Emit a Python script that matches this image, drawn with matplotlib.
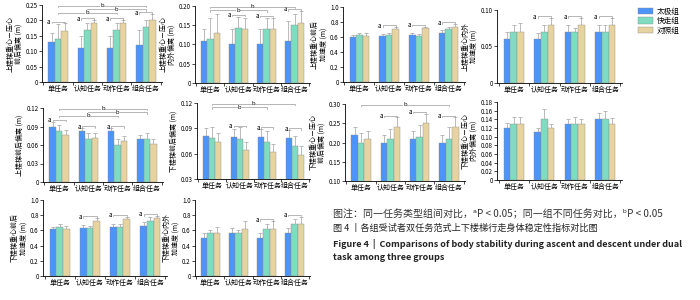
import matplotlib
matplotlib.use("Agg")
import matplotlib.pyplot as plt
import numpy as np

plt.rcParams["font.family"] = ["Noto Sans CJK SC", "DejaVu Sans"]
plt.rcParams["axes.unicode_minus"] = False

# ---- data ----
tasks = ["单任务", "认知任务", "动作任务", "组合任务"]
groups = ["太极组", "快走组", "对照组"]
colors = ["#4D94FA", "#7FDCC0", "#E6D3A0"]

# each panel: means per group (rows) x task (cols), upper error
p1_val = [[0.13, 0.11, 0.11, 0.12], [0.138, 0.17, 0.17, 0.18], [0.165, 0.19, 0.19, 0.20]]
p1_err = [[0.03, 0.04, 0.04, 0.05], [0.05, 0.02, 0.02, 0.02], [0.025, 0.01, 0.01, 0.02]]
p2_val = [[0.11, 0.10, 0.10, 0.11], [0.115, 0.142, 0.14, 0.15], [0.13, 0.14, 0.14, 0.157]]
p2_err = [[0.03, 0.04, 0.04, 0.05], [0.055, 0.03, 0.03, 0.03], [0.05, 0.03, 0.03, 0.03]]
p3_val = [[0.60, 0.61, 0.63, 0.65], [0.63, 0.63, 0.61, 0.71], [0.62, 0.71, 0.72, 0.74]]
p3_err = [[0.03, 0.03, 0.03, 0.04], [0.03, 0.03, 0.03, 0.03], [0.03, 0.02, 0.02, 0.03]]
p4_val = [[0.060, 0.060, 0.070, 0.070], [0.070, 0.070, 0.070, 0.070], [0.070, 0.079, 0.079, 0.079]]
p4_err = [[0.010, 0.008, 0.010, 0.010], [0.010, 0.010, 0.006, 0.010], [0.012, 0.010, 0.010, 0.010]]
p5_val = [[0.090, 0.082, 0.082, 0.070], [0.082, 0.070, 0.060, 0.070], [0.077, 0.071, 0.066, 0.061]]
p5_err = [[0.008, 0.005, 0.005, 0.006], [0.010, 0.010, 0.010, 0.010], [0.008, 0.008, 0.008, 0.008]]
p6_val = [[0.081, 0.080, 0.080, 0.079], [0.079, 0.077, 0.074, 0.069], [0.074, 0.064, 0.062, 0.059]]
p6_err = [[0.009, 0.009, 0.009, 0.009], [0.013, 0.014, 0.013, 0.012], [0.010, 0.010, 0.010, 0.010]]
p7_val = [[0.22, 0.20, 0.21, 0.20], [0.20, 0.21, 0.215, 0.21], [0.21, 0.24, 0.25, 0.24]]
p7_err = [[0.02, 0.02, 0.02, 0.02], [0.025, 0.025, 0.03, 0.03], [0.02, 0.025, 0.025, 0.025]]
p8_val = [[0.12, 0.11, 0.13, 0.14], [0.13, 0.14, 0.13, 0.14], [0.13, 0.12, 0.13, 0.13]]
p8_err = [[0.012, 0.010, 0.010, 0.015], [0.015, 0.025, 0.015, 0.020], [0.015, 0.010, 0.010, 0.012]]
p9_val = [[0.62, 0.63, 0.65, 0.66], [0.64, 0.63, 0.65, 0.73], [0.62, 0.73, 0.75, 0.76]]
p9_err = [[0.03, 0.04, 0.04, 0.05], [0.05, 0.03, 0.03, 0.04], [0.04, 0.03, 0.03, 0.03]]
p10_val = [[0.50, 0.56, 0.50, 0.56], [0.56, 0.56, 0.62, 0.68], [0.57, 0.62, 0.62, 0.69]]
p10_err = [[0.06, 0.07, 0.06, 0.07], [0.05, 0.05, 0.06, 0.07], [0.07, 0.10, 0.10, 0.09]]

ylabels = [
    "上楼梯重心－压心\n前后偏离 (m)", "上楼梯重心－压心\n内外偏离 (m)",
    "上楼梯重心前后\n加速度 (m)", "上楼梯重心内外\n加速度 (m)",
    "上楼梯前后偏离 (m)", "下楼梯前后偏离 (m)",
    "下楼梯重心－压心\n前后偏离 (m)", "下楼梯重心－压心\n内外偏离 (m)",
    "下楼梯重心前后\n加速度 (m)", "下楼梯重心内外\n加速度 (m)",
]
ylims = [(0, 0.25), (0, 0.20), (0, 1.0), (0, 0.10), (0, 0.12),
         (0.03, 0.12), (0.10, 0.30), (0, 0.18), (0, 1.0), (0, 1.0)]
ysteps = [0.05, 0.05, 0.2, 0.05, 0.03, 0.03, 0.05, 0.02, 0.2, 0.2]
yfmt = ["%.2f", "%.2f", "%.1f", "%.2f", "%.2f", "%.2f", "%.2f", "%.2f", "%.1f", "%.1f"]
# significance annotations
sig_a = [[0, 1, 2, 3], [1, 2, 3], [1, 2, 3], [1, 2, 3], [0, 1, 2],
         [1, 2, 3], [1, 2, 3], [], [1, 2, 3], [2, 3]]
sig_b = [[(0, 3), (1, 3), (0, 2)], [(0, 3), (0, 2)], [], [], [(0, 3), (1, 3), (0, 2)],
         [(0, 3), (0, 2)], [(0, 3)], [], [], []]

vals = [p1_val, p2_val, p3_val, p4_val, p5_val, p6_val, p7_val, p8_val, p9_val, p10_val]
errs = [p1_err, p2_err, p3_err, p4_err, p5_err, p6_err, p7_err, p8_err, p9_err, p10_err]

# axes placement in pixels (left, right, top, bottom)
W, H = 700, 300
boxes = [
    (42, 162, 5, 82), (195, 310, 6, 83), (343, 465, 7, 82), (497, 622, 10, 83),
    (43, 163, 108, 182), (197, 310, 103, 179), (345, 465, 104, 181), (497, 622, 102, 180),
    (43, 167, 200, 276), (195, 310, 200, 276),
]

fig = plt.figure(figsize=(7, 3), dpi=100)
bw = 0.22
gray = "#9a9a9a"

for i in range(10):
    l, r, t, b = boxes[i]
    ax = fig.add_axes([l / W, 1 - b / H, (r - l) / W, (b - t) / H])
    v = np.array(vals[i])
    e = np.array(errs[i])
    x = np.arange(len(tasks))
    for g in range(3):
        xs = x + (g - 1) * bw
        ax.bar(xs, v[g], width=bw, color=colors[g], edgecolor="#8c8c8c",
               linewidth=0.3, label=groups[g], zorder=2)
        ax.errorbar(xs, v[g], yerr=[np.zeros(4), e[g]], fmt="none",
                    ecolor="#b0b0b0", elinewidth=0.6, capsize=1.2, capthick=0.6, zorder=1)
    y0, y1 = ylims[i]
    rng = y1 - y0
    top = v + e
    # group-level brackets (a), label on the left of the bracket
    for c in sig_a[i]:
        h = top[:, c].max() + 0.025 * rng
        ax.plot([c - bw, c - bw, c + bw, c + bw], [h - 0.02 * rng, h, h, h - 0.02 * rng],
                color=gray, lw=0.5, clip_on=False)
        ax.text(c - bw - 0.04, h - 0.005 * rng, "a", ha="right", va="center", fontsize=4.5)
    # task-level brackets (b)
    for k, (c0, c1) in enumerate(sig_b[i]):
        h = y1 - 0.012 * rng - k * 0.045 * rng
        ax.plot([c0, c0, c1, c1], [h - 0.02 * rng, h, h, h - 0.02 * rng],
                color=gray, lw=0.5, clip_on=False, zorder=3)
        ax.text((c0 + c1) / 2, h, "b", ha="center", va="center", fontsize=4.3, zorder=4,
                bbox=dict(boxstyle="square,pad=0.03", fc="white", ec="none"))
    ax.set_ylim(y0, y1)
    ax.set_xlim(-0.55, 3.55)
    yt = np.arange(y0, y1 + 1e-9, ysteps[i])
    ax.set_yticks(yt)
    ax.set_yticklabels([("0" if abs(yy) < 1e-9 else yfmt[i] % yy) for yy in yt], fontsize=4.5)
    ax.set_xticks(x)
    ax.set_xticklabels(tasks, fontsize=5)
    ax.set_xticks(np.arange(-0.5, 4, 1), minor=True)
    ax.tick_params(axis="x", which="major", length=0, pad=2)
    ax.tick_params(axis="x", which="minor", length=2, width=0.5)
    ax.tick_params(axis="y", length=2, width=0.5, pad=1)
    for s in ["top", "right"]:
        ax.spines[s].set_visible(False)
    for s in ["left", "bottom"]:
        ax.spines[s].set_linewidth(0.6)
    ax.set_ylabel(ylabels[i], fontsize=5, labelpad=2, linespacing=1.1)
    if i == 0:
        handles, labs = ax.get_legend_handles_labels()

fig.legend(handles, labs, loc="upper left", bbox_to_anchor=(633 / W, 1 - 3 / H),
           frameon=False, fontsize=5.5, handlelength=2.0, handleheight=0.9,
           handletextpad=0.5, labelspacing=0.2, borderpad=0.1)

fig.text(333 / W, 1 - 214 / H, "图注：同一任务类型组间对比，ᵃP < 0.05；同一组不同任务对比，ᵇP < 0.05",
         fontsize=7.2, va="center", ha="left", color="#333333")
fig.text(333 / W, 1 - 228 / H, "图 4 丨各组受试者双任务范式上下楼梯行走身体稳定性指标对比图",
         fontsize=6.6, va="center", ha="left", color="#222222")
fig.text(333 / W, 1 - 244 / H, "Figure 4  |  Comparisons of body stability during ascent and descent under dual",
         fontsize=6.5, va="center", ha="left", fontweight="bold", color="#222222")
fig.text(333 / W, 1 - 257 / H, "task among three groups",
         fontsize=6.5, va="center", ha="left", fontweight="bold", color="#222222")

fig.savefig("out.png", dpi=100, facecolor="white")
